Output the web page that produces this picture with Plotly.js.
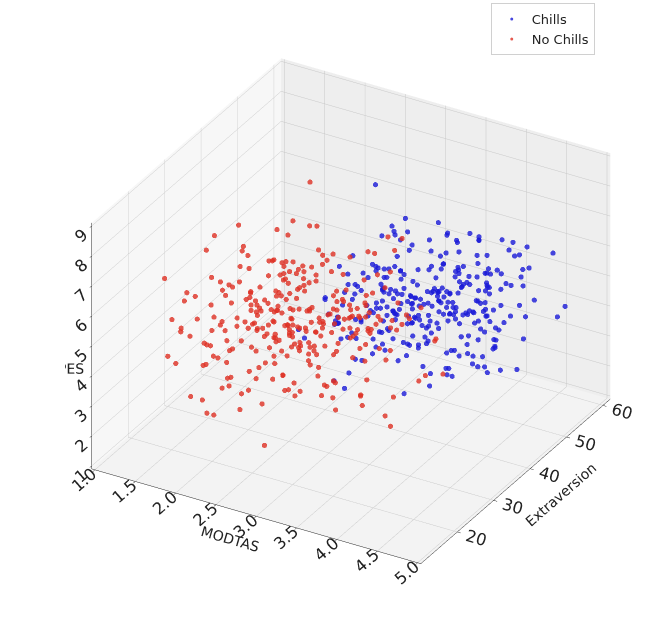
<!DOCTYPE html>
<html>
<head>
<meta charset="utf-8">
<script src="https://cdn.plot.ly/plotly-3.0.1.min.js"></script>
<style>html,body{margin:0;padding:0;background:#fff;}#chart{width:650px;height:623px;}</style>
</head>
<body>
<div id="chart"></div>
<script>
// ---- Data ----
const seriesNames = ["Chills", "No Chills"];
const axisTitles = ["MODTAS", "Extraversion", "DPES"];

const chillsMODTAS = [
3.52,3.91,3.18,4.12,2.86,3.67,4.35,3.29,3.84,2.63,3.45,4.02,3.73,3.11,4.48,3.38,2.95,3.96,3.57,4.21,
3.04,3.79,4.28,3.36,2.71,3.62,4.09,3.23,3.88,4.56,3.14,3.49,2.92,3.71,4.17,3.41,3.83,2.58,3.98,3.27,
4.38,3.55,3.09,3.93,4.24,2.82,3.66,3.32,4.05,3.76,2.99,4.43,3.47,3.19,3.86,4.14,2.68,3.59,4.67,3.35,
3.74,3.06,4.31,3.51,2.89,3.95,3.24,4.19,3.63,3.42,4.52,2.77,3.81,3.16,4.07,3.57,2.94,3.89,4.26,3.33,
3.68,4.11,3.01,3.77,4.41,3.28,2.65,3.92,3.53,4.02,3.21,4.79,3.44,3.85,2.97,3.61,4.23,3.37,3.07,3.96,
4.16,3.48,2.81,3.73,4.33,3.12,3.87,3.55,4.04,2.54,3.66,4.27,3.31,3.94,3.19,4.45,3.58,2.91,3.79,4.09,
3.39,3.82,4.22,3.03,3.69,4.58,3.26,3.91,2.74,3.46,4.13,3.62,3.15,4.37,3.54,2.86,3.99,3.71,4.28,3.22,
3.87,2.98,4.06,3.43,3.76,4.49,3.18,3.64,2.69,4.15,3.52,3.97,3.08,4.32,3.36,3.81,4.86,3.25,3.59,4.01,
2.79,3.71,4.19,3.47,3.02,3.89,4.41,3.34,3.66,2.43,4.08,3.56,3.93,3.13,4.25,3.75,2.92,3.61,4.62,3.39,
4.03,3.29,3.84,2.84,4.34,3.58,3.17,3.95,4.14,2.61,3.73,4.47,3.41,3.05,3.88,4.21,3.52,2.96,3.69,4.96,
3.63,4.27,3.12,3.85,4.54,3.37,2.88,4.06,3.71,4.39,3.24,3.95,4.71,3.49,3.01,4.18,3.78,2.67,4.32,3.56,
3.92,4.44,3.19,3.66,4.09,2.93,3.81,4.25,3.43,4.63,3.07,3.74,4.13,3.31,3.98,4.51,2.76,3.59,4.22,3.88,
3.27,4.03,3.69,4.36,2.99,3.84,4.17,3.52,4.75,3.14,3.93,4.29,3.45,3.76,2.84,4.11,3.61,4.42,3.22,3.97,
4.57,3.35,3.83,4.07,2.72,3.68,4.31,3.50,3.89,4.14,3.16,4.66,3.73,4.01,3.39,2.90,4.24,3.58,4.46,3.81,
3.09,4.19,3.64,3.94,4.38,3.26,4.83,3.54,2.81,4.05,3.70,4.28,3.42,3.87,4.12,3.20,4.55,3.62,3.99,4.91];
const chillsExtraversion = [
42,37,48,33,45,40,51,29,44,38,55,35,47,41,31,49,43,36,53,39,
46,34,41,50,28,44,39,57,36,47,42,32,49,38,45,26,43,52,35,40,
37,48,43,30,46,41,54,35,39,50,33,44,27,47,42,58,36,45,40,31,
49,38,44,34,52,41,36,47,29,43,39,56,35,46,42,32,50,37,45,24,
40,47,35,43,51,38,45,30,48,42,36,53,39,44,33,49,41,28,46,37,
44,39,50,32,46,42,55,36,41,48,34,43,38,52,30,45,40,47,35,59,
36,45,41,49,34,43,38,51,40,27,46,42,37,54,44,32,48,39,45,41,
47,33,43,38,50,41,35,46,44,29,52,40,37,48,42,56,34,45,39,43,
41,49,36,44,31,47,42,53,38,45,40,34,50,43,37,46,25,44,48,39,
45,38,52,40,43,35,48,42,37,55,41,46,33,44,50,39,47,36,42,30,
43,49,38,52,41,46,35,54,44,40,57,37,47,42,33,50,45,39,53,41,
48,36,44,51,40,46,31,55,42,38,49,45,35,52,43,47,39,58,41,46,
37,50,44,42,53,34,47,40,56,45,39,48,43,36,51,44,41,60,38,47,
45,42,52,37,49,43,46,33,54,41,48,39,44,57,36,50,42,47,40,53,
46,38,51,44,41,55,35,48,43,50,39,45,52,37,46,42,49,40,58,44];
const chillsDPES = [
5.2,4.6,5.9,4.1,5.5,4.8,6.3,3.9,5.1,4.4,5.7,3.4,5.0,6.0,4.5,5.3,2.8,5.6,4.9,6.6,
4.7,5.4,3.7,5.8,5.0,4.3,6.1,4.9,5.2,3.1,5.6,4.6,6.4,5.1,4.0,5.5,4.8,7.2,5.3,4.2,
5.9,4.5,5.1,3.6,5.7,4.9,6.2,5.3,4.1,5.0,6.8,4.7,5.4,2.5,5.8,4.4,5.2,6.0,3.9,5.5,
4.8,6.1,5.0,4.3,5.6,3.3,5.2,4.6,6.5,5.1,4.0,5.8,4.9,5.4,3.7,6.2,5.3,4.5,5.7,4.2,
5.5,4.1,6.0,5.2,4.7,5.9,3.5,5.3,4.8,6.3,5.0,4.4,5.6,2.9,5.1,6.7,4.6,5.4,4.0,5.8,
5.0,6.4,4.5,5.7,3.8,5.2,4.9,6.1,5.4,4.2,5.6,7.6,4.7,5.3,3.2,5.9,5.1,4.4,6.2,4.8,
6.0,4.6,5.3,3.9,5.8,5.1,4.3,6.6,5.0,4.7,5.5,3.0,5.2,6.3,4.8,5.7,4.1,5.4,6.9,4.5,
5.3,4.9,5.9,4.2,5.6,6.2,3.6,5.1,4.8,5.4,2.4,5.8,4.6,6.0,5.2,4.3,5.7,5.0,4.0,6.5,
4.7,5.5,3.8,5.9,5.1,4.4,6.4,5.3,4.9,3.4,5.7,5.0,6.1,4.5,5.6,4.2,5.2,7.0,4.8,5.4,
5.8,4.3,5.1,6.3,4.6,5.5,3.7,5.0,5.9,4.1,5.3,6.0,4.7,5.6,2.7,5.2,4.9,6.2,4.4,5.1,
5.4,4.8,6.0,4.3,5.7,5.1,4.6,6.3,5.2,3.8,5.5,4.9,6.6,5.0,4.4,5.8,5.3,4.1,6.1,4.7,
5.6,5.0,4.2,5.9,5.3,6.4,4.5,5.1,3.6,5.7,4.9,6.2,5.4,4.3,5.0,7.3,4.7,5.5,4.0,6.0,
5.2,4.6,5.8,3.9,5.4,6.1,4.8,5.3,4.4,6.7,5.0,4.1,5.6,5.2,3.3,5.9,4.8,5.5,6.3,4.6,
5.1,5.7,4.3,6.0,4.9,5.4,3.7,5.8,5.2,4.5,6.5,5.0,4.7,5.6,4.2,6.1,5.3,4.9,5.7,3.5,
5.5,4.4,6.2,5.0,5.8,4.6,5.3,7.1,4.8,5.6,4.1,5.9,5.2,4.7,6.4,5.1,3.9,5.5,4.3,6.0];

const noChillsMODTAS = [
2.31,1.85,2.64,1.42,2.97,2.12,1.68,3.05,2.45,1.23,2.78,2.03,1.91,2.56,3.21,1.57,2.39,2.84,1.76,2.18,
2.69,1.34,2.25,3.42,1.98,2.51,1.62,2.87,2.14,3.13,1.47,2.36,2.72,1.81,2.95,2.08,1.29,2.61,3.36,2.27,
1.73,2.44,2.92,1.55,2.19,3.08,1.88,2.58,1.16,2.76,2.33,1.95,3.27,2.49,1.64,2.82,2.06,1.38,2.67,3.51,
2.11,1.79,2.54,2.98,1.45,2.37,3.17,1.92,2.62,2.01,1.27,2.88,2.43,1.69,3.39,2.22,1.84,2.74,1.51,2.59,
3.03,2.16,1.72,2.47,2.91,1.36,2.29,3.24,1.99,2.66,1.58,2.41,2.83,2.05,1.21,3.11,2.53,1.87,2.35,2.79,
1.66,2.97,2.24,1.44,2.71,3.46,1.93,2.39,2.08,1.61,2.86,2.57,1.32,3.19,2.13,1.78,2.65,2.44,3.67,1.97,
2.28,1.54,2.81,2.02,3.31,1.83,2.46,1.12,2.73,2.19,1.71,2.94,2.52,1.89,3.08,2.34,1.49,2.63,2.17,3.83,
1.94,2.42,2.89,1.63,2.26,3.14,1.76,2.55,2.09,1.41,2.77,2.38,3.44,1.86,2.61,2.15,1.53,2.99,2.48,1.74,
2.68,3.22,1.97,2.33,1.39,2.85,2.11,1.82,2.59,3.05,1.68,2.46,2.04,1.25,2.93,2.37,3.58,1.91,2.21,2.76,
1.59,2.51,2.14,3.29,1.79,2.66,2.41,1.47,2.87,2.23,1.96,3.12,2.55,1.65,2.32,4.05,1.88,2.71,2.06,1.35,
1.18,2.47,1.83,2.92,2.21,1.52,3.34,2.06,2.73,1.67,2.38,3.09,1.95,2.54,1.31,2.81,2.17,3.48,1.74,2.29,
2.62,1.44,2.99,2.12,1.88,3.21,2.43,1.59,2.76,2.04,1.08,2.57,3.16,1.91,2.35,2.84,1.63,2.49,3.74,2.18,
1.79,2.66,2.27,1.37,3.02,2.41,1.97,2.88,1.55,2.23,3.27,2.09,1.71,2.59,2.96,1.26,2.32,2.78,1.86,3.41,
2.14,1.49,2.69,3.12,2.01,1.81,2.52,2.91,1.33,2.39,3.55,1.93,2.63,2.16,1.69,2.85,2.44,1.14,3.06,2.26,
1.62,2.97,2.37,1.89,2.72,3.36,1.53,2.19,2.81,2.07,1.76,3.18,2.46,1.42,2.67,2.99,1.98,2.33,3.93,1.84];
const noChillsExtraversion = [
34,41,28,45,37,22,39,31,48,26,36,43,30,38,25,47,33,40,29,52,
35,27,44,38,19,42,32,49,36,24,40,33,46,29,37,21,43,35,51,31,
39,26,45,34,41,30,23,47,37,33,55,28,42,36,18,44,31,39,27,48,
32,40,25,46,35,29,43,38,20,49,34,27,41,37,30,53,24,36,44,33,
28,45,37,31,42,22,39,35,47,26,40,33,16,44,38,29,50,34,41,25,
43,30,36,48,27,41,34,23,45,38,31,52,29,37,42,19,35,46,32,39,
24,40,33,47,36,28,44,31,56,38,26,42,35,21,45,30,39,34,49,27,
41,35,29,46,38,24,43,32,37,50,27,40,34,45,30,14,39,36,47,28,
33,44,38,25,41,35,30,48,22,43,37,31,46,28,40,54,34,26,42,36,
29,45,37,32,39,20,47,34,41,27,44,36,31,49,25,38,33,43,17,40,
38,29,44,33,50,26,41,36,23,47,31,39,45,28,35,42,19,37,48,32,
27,43,34,40,53,30,37,25,46,33,41,15,38,44,29,36,49,22,40,34,
45,31,38,27,43,35,48,24,39,32,46,28,37,51,33,41,21,36,44,30,
35,42,26,38,47,31,40,34,57,28,43,37,23,45,32,39,48,26,36,41,
30,46,33,39,24,42,36,49,29,38,44,27,35,52,31,40,18,43,34,37];
const noChillsDPES = [
4.2,3.6,5.1,2.8,4.7,3.3,4.0,5.6,3.1,4.4,2.5,4.9,3.8,4.1,6.2,3.4,4.6,2.9,5.3,3.9,
4.3,5.0,3.2,4.8,2.6,4.5,3.7,6.0,3.0,4.2,5.4,2.2,4.0,3.5,4.9,3.3,5.8,4.1,2.7,4.6,
3.8,4.4,5.2,3.1,4.7,2.4,4.0,3.6,5.5,4.3,3.0,4.8,6.6,3.4,4.1,2.9,5.0,3.7,4.5,3.2,
5.1,3.9,4.3,2.3,4.6,3.5,5.7,4.0,3.3,4.9,2.8,4.2,3.6,5.3,3.1,4.4,1.9,4.7,3.8,5.0,
3.4,4.6,2.7,5.2,4.1,3.7,4.8,3.0,5.9,4.3,3.5,4.0,2.5,4.5,3.2,5.4,4.2,3.9,6.8,3.6,
4.4,3.1,5.0,4.2,2.9,4.7,3.8,5.5,3.4,4.1,2.6,4.9,3.6,4.3,5.2,3.0,4.6,3.9,2.1,4.5,
3.7,5.3,4.0,3.2,4.8,2.7,4.4,3.5,5.1,4.2,3.9,6.3,3.3,4.6,2.8,4.1,5.0,3.6,4.3,3.1,
4.9,3.5,4.2,5.6,3.0,4.5,3.8,2.4,4.7,4.0,5.2,3.4,4.3,2.9,4.8,3.7,5.7,4.1,3.2,4.4,
3.9,4.6,3.1,5.0,4.2,2.6,4.8,3.6,5.4,4.0,3.3,4.5,7.5,3.8,4.3,2.8,5.1,3.5,4.7,4.1,
4.0,3.4,5.3,4.4,2.9,4.7,3.7,5.0,4.2,3.1,4.6,2.3,5.6,3.9,4.3,3.5,4.9,3.2,4.5,4.1,
4.5,3.2,4.9,3.8,2.7,5.4,4.1,3.5,6.1,4.3,2.9,4.7,3.3,5.0,4.0,3.6,5.8,2.4,4.4,3.9,
5.2,3.7,4.6,2.8,4.2,6.5,3.4,4.8,3.1,4.0,5.5,3.6,4.3,2.6,4.9,3.8,5.1,4.2,3.0,4.6,
3.5,4.7,2.9,5.3,4.1,3.6,4.4,6.9,3.2,4.8,3.9,2.5,4.5,3.7,5.6,4.0,3.3,4.9,4.2,2.8,
4.6,3.4,5.0,4.3,2.7,4.1,5.9,3.8,4.5,3.1,4.8,3.6,5.2,4.4,2.2,4.0,3.5,5.7,4.3,3.9,
3.0,4.7,4.1,5.5,3.4,4.2,2.6,4.9,3.8,5.1,4.4,3.2,6.0,3.7,4.6,2.9,4.3,5.3,3.6,4.0];

const xTicks = [1.0,1.5,2.0,2.5,3.0,3.5,4.0,4.5,5.0];
const yTicks = [20,30,40,50,60];
const zTicks = [1,2,3,4,5,6,7,8,9];

// ---- Chart ----
const FONT = "DejaVu Sans, Liberation Sans, sans-serif";
const traces = [
  {type:"scatter3d", mode:"markers", name:seriesNames[0],
   x:chillsMODTAS, y:chillsExtraversion, z:chillsDPES,
   marker:{size:3, color:"rgb(25,25,215)", opacity:0.8}},
  {type:"scatter3d", mode:"markers", name:seriesNames[1],
   x:noChillsMODTAS, y:noChillsExtraversion, z:noChillsDPES,
   marker:{size:3, color:"rgb(222,48,36)", opacity:0.8}}
];

function axis(title, ticks, range, fmt, bg){
  return {
    title:{text:title, font:{family:FONT, size:14, color:"#222"}},
    range:range, tickvals:ticks, ticktext:ticks.map(fmt),
    tickfont:{family:FONT, size:14, color:"#222"},
    showbackground:true, backgroundcolor:bg,
    gridcolor:"rgb(200,200,200)", gridwidth:1,
    showline:true, linecolor:"#222", linewidth:1,
    ticks:"outside", ticklen:4, tickcolor:"#222",
    zeroline:false, showspikes:false
  };
}

const layout = {
  width:650, height:623,
  margin:{l:0, r:0, t:0, b:0},
  paper_bgcolor:"#fff",
  font:{family:FONT, color:"#222"},
  showlegend:true,
  legend:{x:0.915, y:0.995, xanchor:"right", yanchor:"top",
          bgcolor:"rgba(255,255,255,0.9)", bordercolor:"#d0d0d0", borderwidth:1,
          font:{family:FONT, size:13, color:"#222"}},
  scene:{
    domain:{x:[0.1, 0.98], y:[0.02, 0.98]},
    xaxis:axis(axisTitles[0], xTicks, [0.96, 5.04], v=>v.toFixed(1), "rgb(247,247,247)"),
    yaxis:axis(axisTitles[1], yTicks, [10, 62], v=>String(v), "rgb(238,238,238)"),
    zaxis:axis(axisTitles[2], zTicks, [0.9, 9.1], v=>String(v), "rgb(243,243,243)"),
    aspectmode:"manual", aspectratio:{x:1.27, y:1.27, z:0.95},
    camera:{eye:{x:0.95, y:-1.65, z:1.1}, center:{x:0, y:0, z:0}, up:{x:0,y:0,z:1},
            projection:{type:"orthographic"}}
  }
};

Plotly.newPlot("chart", traces, layout, {displayModeBar:false});
</script>
</body>
</html>
